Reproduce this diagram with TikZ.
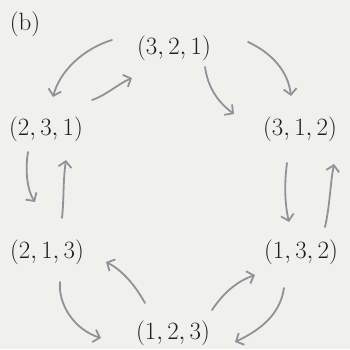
\documentclass[tikz,border=0pt]{standalone}
\usetikzlibrary{arrows.meta,calc}
\definecolor{paper}{RGB}{240,240,237}
\definecolor{ink}{RGB}{30,30,35}
\definecolor{pencil}{RGB}{145,145,155}
\begin{document}
\begin{tikzpicture}[x=1pt,y=-1pt,
  perm/.style={inner sep=0pt,text=ink,font=\fontsize{25}{30}\selectfont},
  hand/.style={draw=pencil,line width=1.8pt,line cap=round,line join=round,
    -{Straight Barb[length=6pt,width=13pt]}}]
\fill[paper] (0,0) rectangle (350,349);
\useasboundingbox (0,0) rectangle (350,349);
\node[perm] (lab) at (25,24) {(b)};
\node[perm] (n321) at (174,48) {$(3,2,1)$};
\node[perm] (n231) at (46,129) {$(2,3,1)$};
\node[perm] (n312) at (300,129) {$(3,1,2)$};
\node[perm] (n213) at (47,252) {$(2,1,3)$};
\node[perm] (n132) at (301,252) {$(1,3,2)$};
\node[perm] (n123) at (173,333) {$(1,2,3)$};
% top
\draw[hand] ($(n321)+(-62,-8)$) .. controls +(-27,8) and +(7,-27) .. ($(n231)+(7,-32)$);
\draw[hand] ($(n231)+(46,-29)$) .. controls +(13,-4) and +(-14,6) .. ($(n321)+(-42,30)$);
\draw[hand] ($(n321)+(74,-6)$) .. controls +(22,10) and +(-3,-26) .. ($(n312)+(-9,-33)$);
\draw[hand] ($(n321)+(31,19)$) .. controls +(3,21) and +(-16,-12) .. ($(n312)+(-66,-15)$);
% sides
\draw[hand] ($(n231)+(-18,23)$) .. controls +(-3,18) and +(-8,-12) .. ($(n213)+(-12,-50)$);
\draw[hand] ($(n213)+(15,-34)$) .. controls +(2,-18) and +(-3,20) .. ($(n231)+(20,31)$);
\draw[hand] ($(n312)+(-13,34)$) .. controls +(-3,22) and +(-4,-17) .. ($(n132)+(-12,-30)$);
\draw[hand] ($(n132)+(24,-25)$) .. controls +(5,-22) and +(-4,21) .. ($(n312)+(34,35)$);
% bottom
\draw[hand] ($(n213)+(13,30)$) .. controls +(-2,23) and +(-26,-8) .. ($(n123)+(-72,5)$);
\draw[hand] ($(n123)+(-28,-30)$) .. controls +(-10,-18) and +(16,8) .. ($(n213)+(59,10)$);
\draw[hand] ($(n123)+(39,-23)$) .. controls +(10,-15) and +(-20,7) .. ($(n132)+(-46,23)$);
\draw[hand] ($(n132)+(-17,36)$) .. controls +(-4,27) and +(25,-12) .. ($(n123)+(62,9)$);
\end{tikzpicture}
\end{document}
